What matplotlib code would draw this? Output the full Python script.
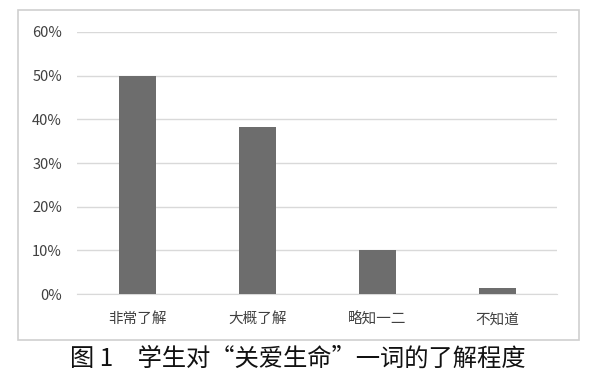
import matplotlib
matplotlib.use('Agg')
import matplotlib.pyplot as plt
import matplotlib.patches as mpatches
from matplotlib.ticker import FuncFormatter, MultipleLocator

plt.rcParams['font.family'] = ['Noto Sans CJK SC', 'DejaVu Sans']

# data
categories = ['非常了解', '大概了解', '略知一二', '不知道']
shares = [0.50, 0.383, 0.10, 0.013]
caption = '图 1\u3000学生对“关爱生命”一词的了解程度'

fig = plt.figure(figsize=(6, 3.85), dpi=100)
ax = fig.add_axes([0.129, 0.236, 0.80, 0.681])

ax.bar(range(len(categories)), shares, width=0.31, color='#6d6d6d', zorder=3)

ax.set_xlim(-0.5, len(categories) - 0.5)
ax.set_ylim(0, 0.60)
ax.yaxis.set_major_locator(MultipleLocator(0.10))
ax.yaxis.set_major_formatter(FuncFormatter(lambda v, p: '%d%%' % round(v * 100)))
ax.set_xticks(range(len(categories)))
ax.set_xticklabels(categories)

ax.grid(axis='y', color='#d9d9d9', linewidth=1.0, zorder=0)
for s in ['top', 'right', 'left']:
    ax.spines[s].set_visible(False)
ax.spines['bottom'].set_color('#d9d9d9')
ax.tick_params(axis='both', length=0, colors='#404040', labelsize=10.5)
ax.tick_params(axis='y', pad=11)
ax.tick_params(axis='x', pad=13)

# outer chart frame
fig.add_artist(mpatches.Rectangle((18 / 600, 1 - 340 / 385), 561 / 600, 330 / 385,
                                  transform=fig.transFigure, fill=False,
                                  edgecolor='#cfcfcf', linewidth=1.2))

fig.text(0.497, 1 - 359 / 385, caption, ha='center', va='center',
         fontsize=17.5, color='#111111')

fig.savefig('out.png', dpi=100)
